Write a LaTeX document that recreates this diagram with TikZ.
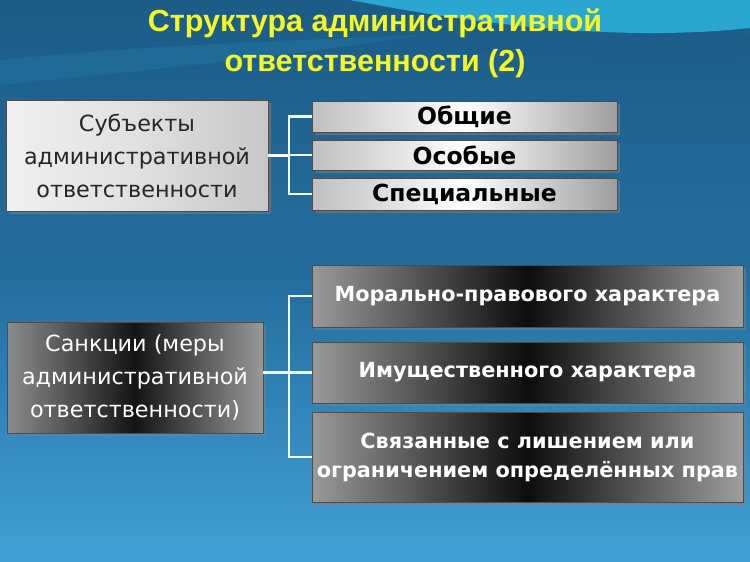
\documentclass[tikz,border=0pt]{standalone}
\usepackage{fontspec}
\setmainfont{DejaVu Sans}
\newfontfamily\titlefont{Liberation Sans}
\usetikzlibrary{shadows}
\definecolor{ttl}{RGB}{246,246,36}
\definecolor{bgtop}{RGB}{28,92,135}
\definecolor{bgmid}{RGB}{36,110,158}
\definecolor{bgbot}{RGB}{66,160,214}
\definecolor{swoosh}{RGB}{45,180,222}
\definecolor{conncol}{RGB}{245,248,250}
\tikzset{
  boxbase/.style={draw=black!70, line width=0.6pt, inner sep=2pt, align=center,
    drop shadow={shadow xshift=2.5pt, shadow yshift=-2.5pt, opacity=0.55}},
  lightleft/.style={boxbase, left color=white!94!black, right color=black!22, middle color=white!88!black,
    text=black!85, font=\fontsize{22.3}{33}\selectfont},
  darkleft/.style={boxbase, left color=black!45, right color=black!40, middle color=black!92,
    text=white, font=\fontsize{22.3}{33}\selectfont},
  lightright/.style={boxbase, left color=black!25, right color=black!38, middle color=white,
    text=black, font=\bfseries\fontsize{23.5}{26}\selectfont},
  darkright/.style={boxbase, left color=black!40, right color=black!38, middle color=black!95,
    text=white, font=\bfseries\fontsize{20.8}{29}\selectfont},
  conn/.style={draw=conncol, line width=2.4pt}
}
\begin{document}
\begin{tikzpicture}[x=1pt,y=-1pt]
\useasboundingbox (0,0) rectangle (750,562);
% background
\shade[top color=bgtop, bottom color=bgbot, middle color=bgmid] (0,0) rectangle (750,562);
\fill[swoosh, opacity=0.85] (350,0) .. controls (480,25) and (620,42) .. (750,28) -- (750,0) -- cycle;
\fill[bgtop!70!swoosh, opacity=0.5] (0,60) .. controls (150,45) and (300,40) .. (420,35)
  .. controls (300,55) and (150,70) .. (0,85) -- cycle;
\fill[bgtop, opacity=0.35] (400,40) .. controls (550,62) and (680,72) .. (750,60) -- (750,36)
  .. controls (650,54) and (520,50) .. (400,40) -- cycle;
% title
\node[font=\titlefont\bfseries\fontsize{30.5}{40}\selectfont, text=ttl, align=center] (title) at (375,43)
  {Структура административной\\ответственности (2)};
% top group
\node[lightleft, minimum width=262, minimum height=111] (subj) at (137,155.5)
  {Субъекты\\административной\\ответственности};
\node[lightright, minimum width=305, minimum height=31] (ob) at (464.5,116.5) {Общие};
\node[lightright, minimum width=305, minimum height=30] (os) at (464.5,155) {Особые};
\node[lightright, minimum width=305, minimum height=32] (sp) at (464.5,194) {Специальные};
\coordinate (j1) at (289,155.5);
\draw[conn] (subj.east) -- (j1);
\draw[conn] (ob.west) -| (j1);
\draw[conn] (sp.west) -| (j1);
\draw[conn] (j1 |- os.west) -- (os.west);
% bottom group
\node[darkleft, minimum width=256, minimum height=111] (sank) at (135,377.5)
  {Санкции (меры\\административной\\ответственности)};
\node[darkright, minimum width=431, minimum height=62] (mor) at (527.5,296) {Морально-правового характера};
\node[darkright, minimum width=431, minimum height=61] (im) at (527.5,372.5) {Имущественного характера};
\node[darkright, minimum width=431, minimum height=90] (sv) at (527.5,457)
  {Связанные с лишением или\\ограничением определённых прав};
\coordinate (j2) at (289,372.5);
\draw[conn] (sank.east |- im.west) -- (im.west);
\draw[conn] (mor.west) -| (j2);
\draw[conn] (sv.west) -| (j2);
\end{tikzpicture}
\end{document}
